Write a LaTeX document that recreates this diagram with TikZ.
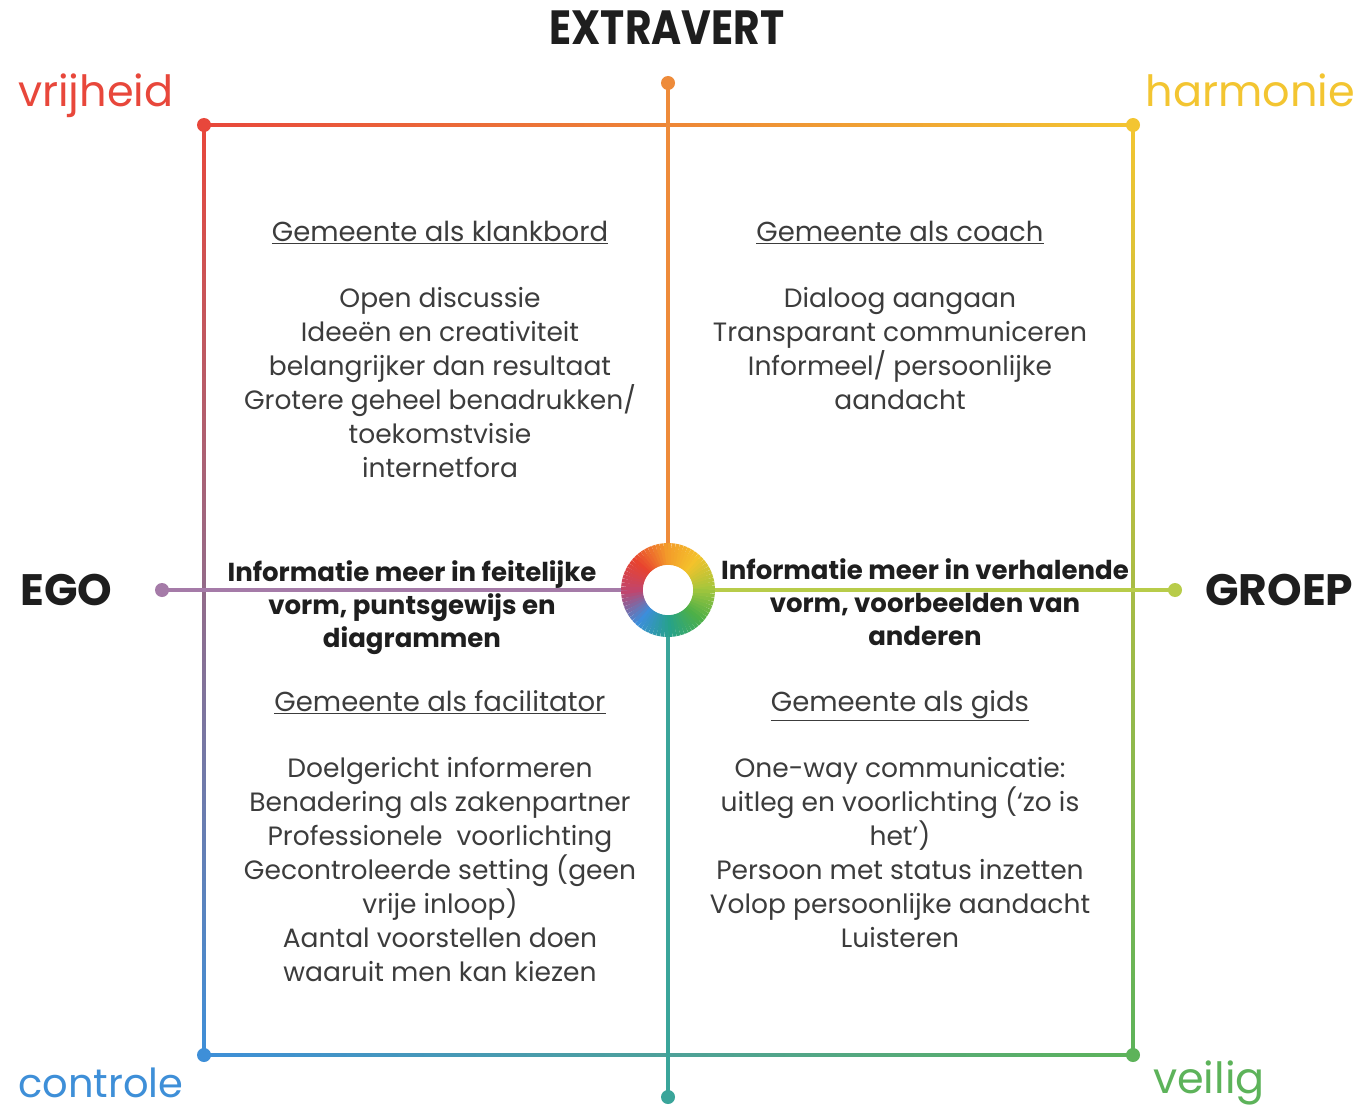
\documentclass[tikz,border=0pt]{standalone}
\usepackage{fontspec}
\usetikzlibrary{calc}
\setmainfont{Poppins}
\newfontfamily\condfont[FakeStretch=0.85]{Poppins}
\definecolor{cred}{HTML}{E8473B}
\definecolor{corange}{HTML}{EE8B3A}
\definecolor{cyellow}{HTML}{F3C531}
\definecolor{cpurple}{HTML}{A57BA8}
\definecolor{cygreen}{HTML}{B8CC4A}
\definecolor{cgreen}{HTML}{5DB35A}
\definecolor{cteal}{HTML}{3AA59A}
\definecolor{cblue}{HTML}{3E8FD8}
\definecolor{txtgray}{HTML}{3C3C3C}
\definecolor{txtdark}{HTML}{1E1E1E}
% ring colour stops (angle counter-clockwise from east)
\definecolor{ra}{HTML}{A6C63C}
\definecolor{rb}{HTML}{F4C22B}
\definecolor{rc}{HTML}{F39A2A}
\definecolor{rd}{HTML}{E8432F}
\definecolor{re}{HTML}{C0456E}
\definecolor{rf}{HTML}{3C8EDB}
\definecolor{rg}{HTML}{26A28A}
\definecolor{rh}{HTML}{4DB048}
\newcommand{\qtitle}[1]{{\fontsize{27.5}{34}\selectfont\underline{#1}}}
\begin{document}
\begin{tikzpicture}[x=1pt,y=-1pt,
  axisline/.style={line width=3.5pt},
  body/.style={align=center, text=txtgray, inner sep=0pt, font=\fontsize{26.5}{34}\selectfont},
  boldtxt/.style={align=center, text=txtdark, inner sep=0pt, font=\bfseries\fontsize{26}{33}\selectfont},
  corner/.style={inner sep=0pt, font=\fontsize{43}{48}\selectfont},
  pole/.style={inner sep=0pt, text=txtdark, font=\bfseries\fontsize{44}{48}\selectfont}]
\useasboundingbox (0,0) rectangle (1357,1110);
\fill[white] (0,0) rectangle (1357,1110);
% key points
\coordinate (TL) at (204,125);
\coordinate (TR) at (1133,125);
\coordinate (BL) at (204,1055);
\coordinate (BR) at (1133,1055);
\coordinate (C) at (668,590);
\coordinate (N) at (668,83);
\coordinate (S) at (668,1097);
\coordinate (W) at (162,590);
\coordinate (E) at (1175,590);
% square edges with gradients
\shade[left color=cred, middle color=corange, right color=cyellow] ($(TL)+(0,-1.8)$) rectangle ($(TR)+(0,1.8)$);
\shade[left color=cblue, middle color=cteal, right color=cgreen] ($(BL)+(0,-1.8)$) rectangle ($(BR)+(0,1.8)$);
\shade[top color=cred, middle color=cpurple, bottom color=cblue] ($(TL)+(-1.8,0)$) rectangle ($(BL)+(1.8,0)$);
\shade[top color=cyellow, middle color=cygreen, bottom color=cgreen] ($(TR)+(-1.8,0)$) rectangle ($(BR)+(1.8,0)$);
% axes
\draw[axisline, corange] (N) -- (C);
\draw[axisline, cteal] (C) -- (S);
\draw[axisline, cpurple] (W) -- (C);
\draw[axisline, cygreen] (C) -- (E);
% dots
\fill[cred] (TL) circle (7);
\fill[cyellow] (TR) circle (7);
\fill[cblue] (BL) circle (7);
\fill[cgreen] (BR) circle (7);
\fill[corange] (N) circle (7);
\fill[cteal] (S) circle (7);
\fill[cpurple] (W) circle (7);
\fill[cygreen] (E) circle (7);
% colour ring
\begin{scope}[shift={(C)}, x=1pt, y=1pt]
\foreach \k/\ca/\cb in {0/ra/rb,1/rb/rc,2/rc/rd,3/rd/re,4/re/rf,5/rf/rg,6/rg/rh,7/rh/ra}{
  \foreach \s in {0,...,8}{
    \pgfmathsetmacro\p{100-\s*100/9}
    \pgfmathsetmacro\ang{\k*45+\s*5}
    \colorlet{segc}{\ca!\p!\cb}
    \draw[segc, line width=22pt] (\ang:36) arc[start angle=\ang, end angle=\ang+6, radius=36];
  }
}
\fill[white] (0,0) circle (25);
\end{scope}
% corner labels
\node[corner, text=cred, anchor=base west] (vrij) at (18,107) {vrijheid};
\node[corner, text=cyellow, anchor=base east] (harm) at (1355,107) {harmonie};
\node[corner, text=cblue, anchor=base west, font=\fontsize{40}{44}\selectfont] (contr) at (18,1097) {controle};
\node[corner, text=cgreen, anchor=base west] (veil) at (1153,1093) {veilig};
% poles
\node[pole, anchor=base, font=\condfont\bfseries\fontsize{48}{52}\selectfont] (extra) at (667,45) {EXTRAVERT};
\node[pole, anchor=base west] (ego) at (20,605) {EGO};
\node[pole, anchor=base west] (groep) at (1205,605) {GROEP};
% quadrant texts
\node[body, anchor=north] (q1) at (440,221) {\qtitle{Gemeente als klankbord}\\[32pt]
Open discussie\\ Ideeën en creativiteit\\ belangrijker dan resultaat\\ Grotere geheel benadrukken/\\ toekomstvisie\\ internetfora};
\node[body, anchor=north] (q2) at (900,221) {\qtitle{Gemeente als coach}\\[32pt]
Dialoog aangaan\\ Transparant communiceren\\ Informeel/ persoonlijke\\ aandacht};
\node[body, anchor=north] (q3) at (440,690) {\qtitle{Gemeente als facilitator}\\[32pt]
Doelgericht informeren\\ Benadering als zakenpartner\\ Professionele\ \ voorlichting\\ Gecontroleerde setting (geen\\ vrije inloop)\\ Aantal voorstellen doen\\ waaruit men kan kiezen};
\node[body, anchor=north] (q4) at (900,690) {\qtitle{Gemeente als gids}\\[32pt]
One-way communicatie:\\ uitleg en voorlichting (‘zo is\\ het’)\\ Persoon met status inzetten\\ Volop persoonlijke aandacht\\ Luisteren};
% middle bold texts
\node[boldtxt, anchor=north] (ml) at (412,560) {Informatie meer in feitelijke\\ vorm, puntsgewijs en\\ diagrammen};
\node[boldtxt, anchor=north] (mr) at (925,558) {Informatie meer in verhalende\\ vorm, voorbeelden van\\ anderen};
\end{tikzpicture}
\end{document}
